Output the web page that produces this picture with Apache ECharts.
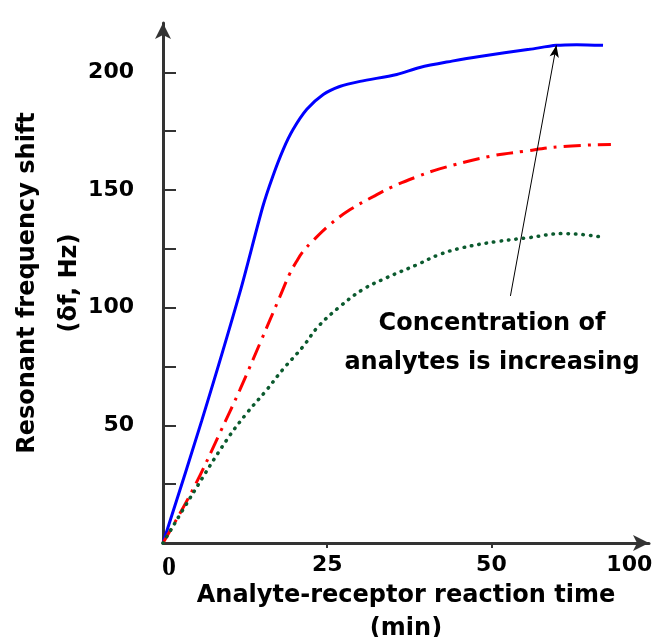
<!DOCTYPE html>
<html>
<head>
<meta charset="utf-8">
<script src="https://cdn.jsdelivr.net/npm/echarts@6/dist/echarts.min.js"></script>
<style>
    html, body { margin: 0; padding: 0; background: #fff; }
    #chart { width: 657px; height: 637px; }
</style>
</head>
<body>
<div id="chart"></div>
<script>
// curves: [time (min), shift (Hz)]
const highConc = [
    [0, 0], [5.9, 52], [11.7, 106.4], [15.2, 143], [16.7, 155.7],
    [18.3, 167.2], [19.8, 175.7], [21.9, 184.3], [24.4, 190.6], [26.9, 194],
    [30, 196.2], [35.6, 199.1], [39.1, 202.1], [44, 204.8],
    [48.2, 206.8], [55.8, 209.8], [59.9, 211.5], [63, 211.8], [67, 211.5]
]
const midConc = [
    [0, 0], [4.6, 23], [8.7, 47], [11.7, 65.1], [14.8, 85.1], [17.8, 104.7],
    [19.3, 114.5], [20.3, 119.5], [21.3, 123.8], [22.7, 128.1], [25.4, 135.3],
    [28.5, 141.7], [32, 147.2], [35, 151.5], [38.7, 155.7], [42.1, 159],
    [49.7, 164.3], [55, 166.5], [60.8, 168.5], [68.2, 169.4]
]
const lowConc = [
    [0, 0], [4.6, 21.3], [9.7, 43.8], [12.8, 55.3],
    [15.8, 65.1], [18.2, 73.6], [21.3, 83.4], [23.6, 91.9], [26.9, 100.4],
    [30.4, 107.7], [34.1, 112.8], [38.7, 118.3], [42, 122.5], [45.6, 125.5],
    [50.8, 128.1], [55.8, 129.8], [60.8, 131.5], [63.8, 131.1], [66.4, 130.2]
]
const xLabelValues = [0, 25, 50, 71]
const xLabelTexts = ['0', '25', '50', '100']
const xTickValues = [25, 50]
const yTickValues = [25, 50, 75, 100, 125, 150, 175, 200]
const yLabelValues = [50, 100, 150, 200]
const arrowFrom = [52.9, 105]
const arrowTo = [59.9, 211.5]
const noteLines = ['Concentration of', 'analytes is increasing']

const font = '"DejaVu Sans", "Noto Sans", sans-serif'

var chart = echarts.init(document.getElementById('chart'))
var option = {
    animation: false,
    grid: {
        left: 163, right: 8, top: 23, bottom: 94,
        containLabel: false,
        outerBoundsMode: 'none'
    },
    xAxis: {
        type: 'value',
        min: 0,
        max: 74,
        splitLine: { show: false },
        axisLine: {
            lineStyle: { color: '#333', width: 3 },
            symbol: ['none', 'arrow'],
            symbolSize: [12, 16]
        },
        axisTick: {
            customValues: xTickValues,
            length: 5,
            lineStyle: { color: '#333', width: 2 }
        },
        axisLabel: {
            customValues: xLabelValues,
            margin: 11,
            color: '#000',
            fontFamily: font,
            fontWeight: 'bold',
            fontSize: 22,
            formatter: function (v) {
                var t = xLabelTexts[xLabelValues.indexOf(v)]
                return v === 0 ? '{zero|' + t + '}' : t
            },
            rich: {
                zero: {
                    fontFamily: '"Liberation Serif", serif',
                    fontWeight: 'bold',
                    fontSize: 28,
                    color: '#000',
                    padding: [0, 0, 0, 12]
                }
            }
        },
        name: 'Analyte-receptor reaction time\n(min)',
        nameLocation: 'middle',
        nameGap: 36,
        nameMoveOverlap: false,
        nameTextStyle: {
            color: '#000',
            fontFamily: font,
            fontWeight: 'bold',
            fontSize: 24,
            lineHeight: 33
        }
    },
    yAxis: {
        type: 'value',
        min: 0,
        max: 221,
        splitLine: { show: false },
        axisLine: {
            lineStyle: { color: '#333', width: 3 },
            symbol: ['none', 'arrow'],
            symbolSize: [12, 16]
        },
        axisTick: {
            customValues: yTickValues,
            inside: true,
            length: 13,
            lineStyle: { color: '#333', width: 2 }
        },
        axisLabel: {
            customValues: yLabelValues,
            margin: 29,
            color: '#000',
            fontFamily: font,
            fontWeight: 'bold',
            fontSize: 22
        },
        name: 'Resonant frequency shift\n(δf, Hz)',
        nameLocation: 'middle',
        nameRotate: 90,
        nameGap: 72,
        nameMoveOverlap: false,
        nameTextStyle: {
            color: '#000',
            fontFamily: font,
            fontWeight: 'bold',
            fontSize: 24,
            lineHeight: 42
        }
    },
    series: [
        {
            type: 'line',
            data: highConc,
            smooth: 0.3,
            symbol: 'none',
            lineStyle: { color: '#0000ff', width: 3 }
        },
        {
            type: 'line',
            data: midConc,
            smooth: 0.4,
            symbol: 'none',
            lineStyle: { color: '#ff0000', width: 3, type: [17, 7, 3, 7] }
        },
        {
            type: 'line',
            data: lowConc,
            smooth: 0.4,
            symbol: 'none',
            lineStyle: { color: '#0b5a2e', width: 3.5, type: [0.5, 7], cap: 'round' },
            markLine: {
                silent: true,
                symbol: ['none', 'arrow'],
                symbolSize: [7, 12],
                label: { show: false },
                lineStyle: { color: '#000', width: 1, type: 'solid' },
                data: [[{ coord: arrowFrom }, { coord: arrowTo }]]
            }
        }
    ],
    graphic: [
        {
            type: 'text',
            x: 492,
            y: 324,
            style: {
                text: noteLines[0],
                align: 'center',
                verticalAlign: 'middle',
                fill: '#000',
                font: 'bold 24px ' + font
            }
        },
        {
            type: 'text',
            x: 492,
            y: 363,
            style: {
                text: noteLines[1],
                align: 'center',
                verticalAlign: 'middle',
                fill: '#000',
                font: 'bold 24px ' + font
            }
        }
    ]
}

option && chart.setOption(option)
</script>
</body>
</html>
